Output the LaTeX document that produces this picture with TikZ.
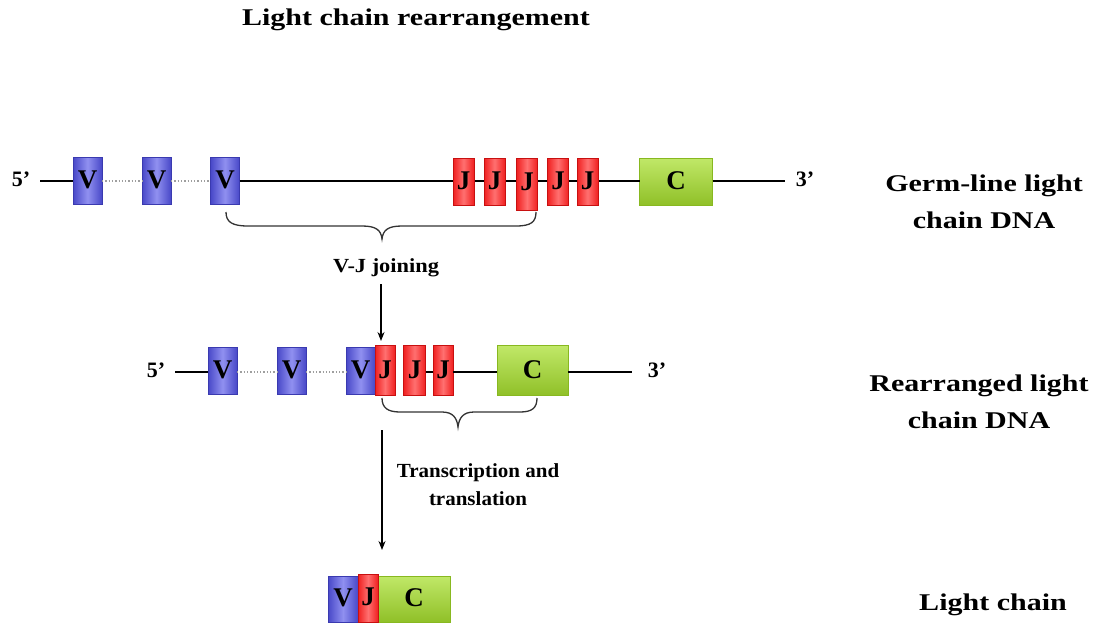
\documentclass[tikz,border=0pt]{standalone}
\usepackage{fontspec}
\usetikzlibrary{arrows.meta}
\newfontfamily\lblfont[FakeStretch=1.25]{Liberation Serif Bold}
\newfontfamily\midfont[FakeStretch=1.05]{Liberation Serif Bold}
\newfontfamily\vjfont[FakeStretch=1.12]{Liberation Serif Bold}
\newfontfamily\boxfont{Liberation Serif Bold}
\definecolor{vedge}{HTML}{3A3AB0}
\definecolor{vdark}{HTML}{4848C8}
\definecolor{vlight}{HTML}{9090F0}
\definecolor{jedge}{HTML}{C81010}
\definecolor{jdark}{HTML}{F02020}
\definecolor{jlight}{HTML}{FF7070}
\definecolor{cedge}{HTML}{88B820}
\definecolor{cdark}{HTML}{90C028}
\definecolor{clight}{HTML}{C0E868}
\definecolor{brc}{HTML}{333333}
\tikzset{
  seg/.style={inner sep=0pt, outer sep=0pt, line width=0.8pt, font=\boxfont\fontsize{27}{27}\selectfont},
  vbox/.style={seg, draw=vedge, left color=vdark, right color=vdark, middle color=vlight, minimum width=29pt, minimum height=47pt},
  jbox/.style={seg, draw=jedge, left color=jdark, right color=jdark, middle color=jlight, minimum width=21pt, minimum height=47pt},
  cbox/.style={seg, draw=cedge, top color=clight, bottom color=cdark, minimum width=73pt, minimum height=47pt},
  dna/.style={line width=1.5pt, black},
  gap/.style={line width=1.3pt, gray!75, dotted},
  brace/.style={line width=1.3pt, brc},
  arr/.style={line width=1.2pt, -{Stealth[length=9pt,width=7pt]}},
  big/.style={font=\lblfont\fontsize{24}{36.5}\selectfont, align=center, anchor=base, inner sep=0pt},
  mid/.style={font=\midfont\fontsize{20}{28}\selectfont, align=center, anchor=base, inner sep=0pt},
  prime/.style={font=\boxfont\fontsize{22}{22}\selectfont, inner sep=0pt}
}
\begin{document}
\begin{tikzpicture}[x=1pt,y=-1pt]
\useasboundingbox (0,0) rectangle (1099,624);
\fill[white] (0,0) rectangle (1099,624);

% title
\node[big] (title) at (416,25) {Light chain rearrangement};

% ---------- germ-line row ----------
\node[prime] (p5a) at (21,179) {5’};
\node[prime] (p3a) at (805,179) {3’};
\coordinate (la0) at (40,181);
\coordinate (la1) at (785,181);
\node[vbox] (av1) at (87.5,180.5) {};
\node[vbox] (av2) at (156.5,180.5) {};
\node[vbox] (av3) at (225,180.5) {};
\node[cbox] (ac) at (676,181.5) {};
\draw[dna] (la0) -- (la0 -| av1.west);
\draw[gap] (la0 -| av1.east) -- (la0 -| av2.west);
\draw[gap] (la0 -| av2.east) -- (la0 -| av3.west);
\draw[dna] (la0 -| av3.east) -- (la0 -| ac.west);
\draw[dna] (la0 -| ac.east) -- (la1);
\node[jbox] (aj1) at (463.5,181.5) {};
\node[jbox] (aj2) at (494.5,181.5) {};
\node[jbox, minimum height=52pt] (aj3) at (527,184.5) {};
\node[jbox] (aj4) at (558,181.5) {};
\node[jbox] (aj5) at (587.5,181.5) {};
\foreach \n in {av1,av2,av3} \node[seg] at ([yshift=1pt]\n.center) {V};
\foreach \n in {aj1,aj2,aj4,aj5} \node[seg] at ([yshift=1pt]\n.center) {J};
\node[seg] at ([yshift=3pt]aj3.center) {J};
\node[seg] at ([yshift=1pt]ac.center) {C};

% brace 1
\draw[brace] (226,212) .. controls (226,222) and (232,226) .. (248,226) -- (362,226)
  .. controls (376,226) and (381,230) .. (382,239)
  .. controls (383,230) and (388,226) .. (402,226) -- (516,226)
  .. controls (531,226) and (536,222) .. (536,212);
\node[mid, font=\vjfont\fontsize{20}{28}\selectfont] (vj) at (386,272) {V-J joining};
\coordinate (a1s) at (381,284);
\draw[arr] (a1s) -- (381,341);

% ---------- rearranged row ----------
\node[prime] (p5b) at (156,370) {5’};
\node[prime] (p3b) at (657,370) {3’};
\coordinate (lb0) at (175,372);
\coordinate (lb1) at (632,372);
\node[vbox] (bv1) at (222.5,371) {};
\node[vbox] (bv2) at (291.5,371) {};
\node[vbox] (bv3) at (360.5,371) {};
\node[cbox, minimum width=71pt, minimum height=50pt] (bc) at (532.5,370.5) {};
\node[jbox, minimum width=20pt, minimum height=50pt] (bj1) at (385,370.5) {};
\node[jbox, minimum width=22pt, minimum height=50pt] (bj2) at (414.5,370.5) {};
\node[jbox, minimum width=20pt, minimum height=50pt] (bj3) at (443,370.5) {};
\draw[dna] (lb0) -- (lb0 -| bv1.west);
\draw[gap] (lb0 -| bv1.east) -- (lb0 -| bv2.west);
\draw[gap] (lb0 -| bv2.east) -- (lb0 -| bv3.west);
\draw[dna] (lb0 -| bj2.east) -- (lb0 -| bj3.west);
\draw[dna] (lb0 -| bj3.east) -- (lb0 -| bc.west);
\draw[dna] (lb0 -| bc.east) -- (lb1);
\foreach \n in {bv1,bv2,bv3} \node[seg] at ([yshift=1pt]\n.center) {V};
\foreach \n in {bj1,bj2,bj3} \node[seg] at ([yshift=1pt]\n.center) {J};
\node[seg] at ([yshift=1pt]bc.center) {C};

% brace 2
\draw[brace] (382,398) .. controls (382,408) and (388,412) .. (400,412) -- (442,412)
  .. controls (453,412) and (457,418) .. (458,427)
  .. controls (459,418) and (463,412) .. (474,412) -- (520,412)
  .. controls (532,412) and (537,408) .. (537,398);
\node[mid] (tt) at (478,505) {Transcription and\\translation};
\coordinate (a2s) at (382,430);
\draw[arr] (a2s) -- (382,550);

% ---------- light chain ----------
\node[vbox, minimum width=30pt, minimum height=46pt] (cv) at (343,599) {};
\node[cbox, minimum width=72pt, minimum height=46pt] (cc) at (414,599) {};
\node[jbox, minimum width=20pt, minimum height=48pt] (cj) at (368,598) {};
\node[seg] at ([yshift=1pt]cv.center) {V};
\node[seg] at ([yshift=1pt]cj.center) {J};
\node[seg] at ([yshift=1pt]cc.center) {C};

% right labels
\node[big] (germ) at (984,228) {Germ-line light\\chain DNA};
\node[big] (rearr) at (979,428) {Rearranged light\\chain DNA};
\node[big] (lc) at (993,610) {Light chain};
\end{tikzpicture}
\end{document}
